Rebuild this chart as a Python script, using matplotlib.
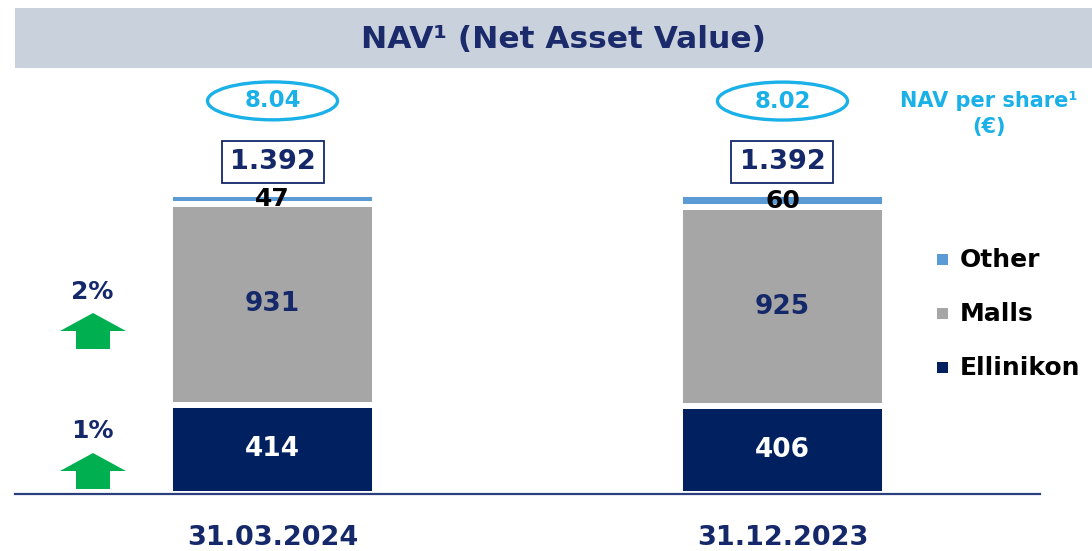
import matplotlib.pyplot as plt
from matplotlib.patches import Rectangle, Ellipse, Polygon

# ── data ────────────────────────────────────────────────────────────────────
dates = ["31.03.2024", "31.12.2023"]
ellinikon = [414, 406]
malls = [931, 925]
other = [47, 60]
nav_total = ["1.392", "1.392"]
nav_per_share = ["8.04", "8.02"]
pct_change = {"Malls": "2%", "Ellinikon": "1%"}

# ── colours ─────────────────────────────────────────────────────────────────
C_NAVY = "#002060"
C_TEXT = "#14286a"
C_GREY = "#a6a6a6"
C_OTHER = "#5b9bd5"
C_CYAN = "#1ab0e8"
C_GREEN = "#00b050"
C_BAND = "#c9d1dc"

plt.rcParams["font.family"] = "DejaVu Sans"

fig = plt.figure(figsize=(10.92, 5.51), dpi=100)

# overlay in pixel coordinates for the decorative bits
ov = fig.add_axes([0, 0, 1, 1])
ov.set_xlim(0, 1092)
ov.set_ylim(551, 0)
ov.axis("off")

# main bar axes: baseline at y=494px, from x=15 to 1040px
ax = fig.add_axes([15 / 1092, 1 - 494 / 551, 1025 / 1092, (494 - 75) / 551])
ax.patch.set_alpha(0)
x = [0, 1]
w = 0.402
edge = dict(edgecolor="white", linewidth=4.3)

ax.bar(x, ellinikon, w, color=C_NAVY, **edge)
ax.bar(x, malls, w, bottom=ellinikon, color=C_GREY, **edge)
bot3 = [e + m for e, m in zip(ellinikon, malls)]
ax.bar(x, other, w, bottom=bot3, color=C_OTHER, **edge)

ax.set_xlim(-0.505, 1.505)
ax.set_ylim(0, 1944)
for s in ["top", "right", "left"]:
    ax.spines[s].set_visible(False)
ax.spines["bottom"].set_color("#2b3f7e")
ax.spines["bottom"].set_linewidth(1.6)
ax.spines["bottom"].set_zorder(5)
ax.set_yticks([])
ax.set_xticks(x, dates)
ax.tick_params(axis="x", length=0, pad=22)
for lbl in ax.get_xticklabels():
    lbl.set_fontsize(19.5)
    lbl.set_fontweight("bold")
    lbl.set_color(C_TEXT)

# segment labels
for i in x:
    ax.text(i, ellinikon[i] / 2, str(ellinikon[i]), ha="center", va="center",
            fontsize=19, fontweight="bold", color="white", zorder=4)
    ax.text(i, ellinikon[i] + malls[i] / 2, str(malls[i]), ha="center",
            va="center", fontsize=19, fontweight="bold", color=C_TEXT, zorder=4)
    ax.text(i, bot3[i] + other[i] / 2, str(other[i]), ha="center",
            va="center", fontsize=18, fontweight="bold", color="black", zorder=4)
    top = bot3[i] + other[i]
    # total box
    ax.text(i, top + 149, nav_total[i], ha="center", va="center",
            fontsize=19.5, fontweight="bold", color=C_TEXT, zorder=4,
            bbox=dict(boxstyle="square,pad=0.3", facecolor="white",
                      edgecolor=C_TEXT, linewidth=1.3))
    # NAV per share ellipse
    ax.add_patch(Ellipse((i, top + 432), 0.255, 176, facecolor="white",
                         edgecolor=C_CYAN, linewidth=2.4, clip_on=False))
    ax.text(i, top + 432, nav_per_share[i], ha="center", va="center",
            fontsize=16.5, fontweight="bold", color=C_CYAN, zorder=4)

# ── title band ──────────────────────────────────────────────────────────────
ov.add_patch(Rectangle((15, 8), 1077, 60, facecolor=C_BAND, edgecolor="none"))
ov.text(563, 39, "NAV¹ (Net Asset Value)", ha="center", va="center",
        fontsize=22.5, fontweight="bold", color="#1b2a6b")

# NAV per share caption
ov.text(989, 114, "NAV per share¹\n(€)", ha="center", va="center",
        fontsize=15, fontweight="bold", color=C_CYAN, linespacing=1.35)

# legend (manual)
for name, col, yy in [("Other", C_OTHER, 260), ("Malls", C_GREY, 314),
                      ("Ellinikon", C_NAVY, 368)]:
    ov.add_patch(Rectangle((937, yy - 6), 11, 11, facecolor=col,
                           edgecolor="none"))
    ov.text(960, yy, name, ha="left", va="center", fontsize=18,
            fontweight="bold", color="black")

# growth arrows
def up_arrow(cx, tip):
    pts = [(cx, tip), (cx + 33, tip + 18), (cx + 17, tip + 18),
           (cx + 17, tip + 36), (cx - 17, tip + 36), (cx - 17, tip + 18),
           (cx - 33, tip + 18)]
    ov.add_patch(Polygon(pts, closed=True, facecolor=C_GREEN, edgecolor="none"))

ov.text(92, 292, pct_change["Malls"], ha="center", va="center",
        fontsize=18, fontweight="bold", color=C_TEXT)
up_arrow(93, 313)
ov.text(92, 431, pct_change["Ellinikon"], ha="center", va="center",
        fontsize=18, fontweight="bold", color=C_TEXT)
up_arrow(93, 453)

fig.savefig("out.png", dpi=100, facecolor="white")
